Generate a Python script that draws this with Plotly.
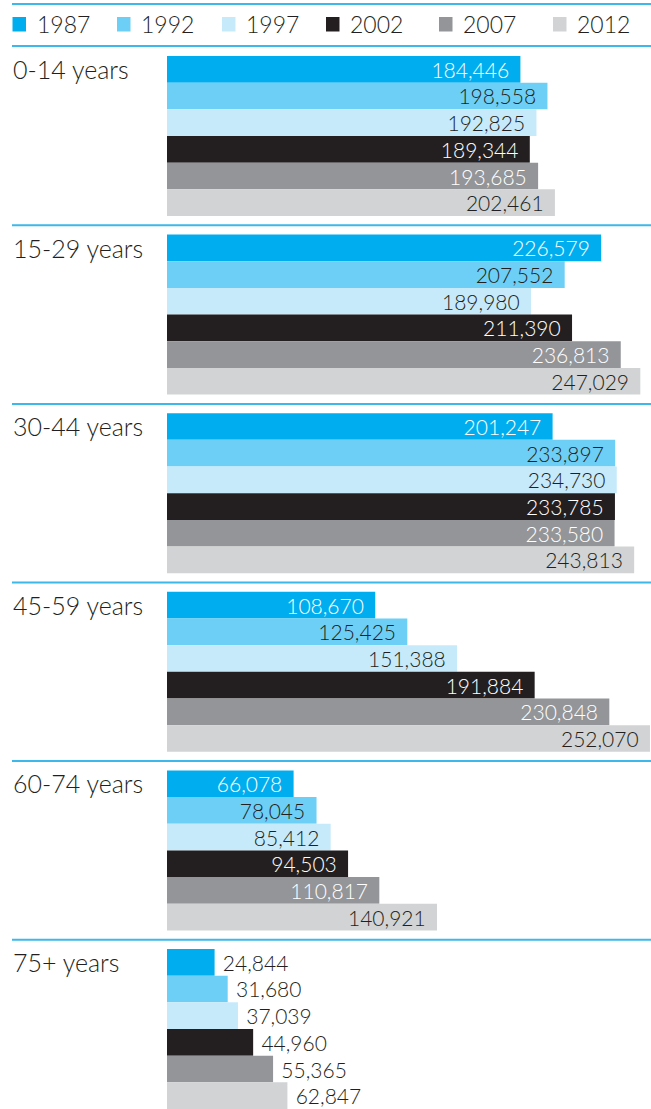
import plotly.graph_objects as go

years = ["1987", "1992", "1997", "2002", "2007", "2012"]
age_groups = ["0-14 years", "15-29 years", "30-44 years", "45-59 years", "60-74 years", "75+ years"]
v1987 = [184446, 226579, 201247, 108670, 66078, 24844]
v1992 = [198558, 207552, 233897, 125425, 78045, 31680]
v1997 = [192825, 189980, 234730, 151388, 85412, 37039]
v2002 = [189344, 211390, 233785, 191884, 94503, 44960]
v2007 = [193685, 236813, 233580, 230848, 110817, 55365]
v2012 = [202461, 247029, 243813, 252070, 140921, 62847]
series = [v1987, v1992, v1997, v2002, v2007, v2012]

colors = ["#00aeef", "#6dcff6", "#c7eafb", "#231f20", "#939598", "#d1d3d4"]
inside_text_colors = ["#ffffff", "#231f20", "#231f20", "#ffffff", "#ffffff", "#231f20"]
dark = "#231f20"
line_color = "#3db8ea"
FONT = "Lato"

W, H = 651, 1109
L = 167
PW = W - L
outside_groups = {"75+ years"}

def px_x(px):
    return (px - L) / PW

def px_y(py):
    return 1 - py / H

fig = go.Figure()
ypos = list(range(len(age_groups)))
for yi, (yr, vals) in enumerate(zip(years, series)):
    labels, positions = [], []
    for g, v in zip(age_groups, vals):
        if g in outside_groups:
            labels.append("\u2009\u2009" + f"{v:,}")
            positions.append("outside")
        else:
            labels.append(f"{v:,}" + "\u00a0\u2009")
            positions.append("inside")
    fig.add_trace(go.Bar(
        x=vals, y=ypos, orientation="h", name=yr,
        marker=dict(color=colors[yi], line=dict(width=0)),
        text=labels, textposition=positions, textangle=0,
        insidetextanchor="end", constraintext="none", cliponaxis=False,
        insidetextfont=dict(family=FONT, size=21, color=inside_text_colors[yi], weight=300),
        outsidetextfont=dict(family=FONT, size=21, color=dark, weight=300),
        showlegend=False, hoverinfo="skip",
    ))

shapes = []
annotations = []
# legend lines
for py in (4, 46):
    shapes.append(dict(type="line", xref="paper", yref="paper",
                       x0=px_x(12), x1=px_x(651), y0=px_y(py), y1=px_y(py),
                       line=dict(color=line_color, width=2)))
# legend entries
sq_x = [12.5, 117, 222, 326, 439, 553]
for i, yr in enumerate(years):
    x0 = sq_x[i]
    shapes.append(dict(type="rect", xref="paper", yref="paper",
                       x0=px_x(x0), x1=px_x(x0 + 13.5), y0=px_y(17), y1=px_y(31.5),
                       fillcolor=colors[i], line=dict(width=0)))
    annotations.append(dict(text=yr, xref="paper", yref="paper",
                            x=px_x(x0 + 22), y=px_y(24.5), xanchor="left", yanchor="middle",
                            showarrow=False, font=dict(family=FONT, size=23, color=dark, weight=300)))
# group separators and labels
for i, g in enumerate(age_groups):
    if i > 0:
        shapes.append(dict(type="line", xref="paper", yref="y",
                           x0=px_x(12), x1=px_x(651), y0=i - 0.5, y1=i - 0.5,
                           line=dict(color=line_color, width=2)))
    annotations.append(dict(text=g, xref="paper", yref="y", x=px_x(11), y=i - 0.375,
                            xanchor="left", yanchor="middle", showarrow=False,
                            font=dict(family=FONT, size=25, color=dark, weight=300)))

fig.update_layout(
    width=W, height=H,
    margin=dict(l=L, r=0, t=0, b=0),
    paper_bgcolor="white", plot_bgcolor="white",
    barmode="group", bargap=0.104, bargroupgap=0,
    xaxis=dict(range=[0, 252600], visible=False, fixedrange=True),
    yaxis=dict(range=[5.4479, -0.7615], visible=False, fixedrange=True),
    shapes=shapes, annotations=annotations,
    showlegend=False,
)

fig.write_html("out.html", config={"displayModeBar": False})
